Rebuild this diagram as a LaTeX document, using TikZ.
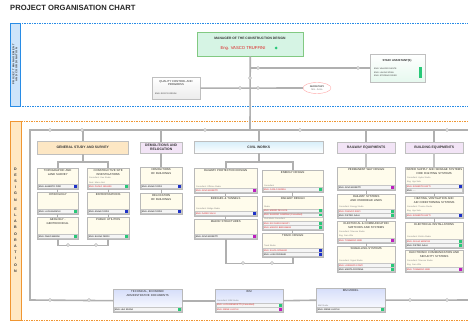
\documentclass[tikz,border=0pt]{standalone}
\usepackage{fontspec}
\setmainfont{Liberation Sans}
\newfontfamily\spacedfont[LetterSpace=20]{Liberation Sans}
\usetikzlibrary{calc,shapes.geometric}
\definecolor{mint}{RGB}{214,244,228}
\definecolor{cream}{RGB}{255,252,236}
\definecolor{peach}{RGB}{253,231,196}
\definecolor{lav}{RGB}{242,228,246}
\definecolor{skyb}{RGB}{214,238,250}
\definecolor{bimb}{RGB}{214,222,250}
\definecolor{bluefr}{RGB}{40,140,230}
\definecolor{orafr}{RGB}{240,150,50}
\definecolor{bluestrip}{RGB}{205,228,250}
\definecolor{orastrip}{RGB}{255,232,195}
\definecolor{dgreen}{RGB}{40,200,120}
\definecolor{dblue}{RGB}{30,50,200}
\definecolor{dmag}{RGB}{190,30,190}
\definecolor{nred}{RGB}{220,30,30}
\tikzset{
  conn/.style={line width=1.6pt, draw=gray!62},
  thinconn/.style={line width=0.8pt, draw=gray!62},
  jn/.style={circle, draw=gray!60, fill=white, inner sep=0pt, minimum size=3pt, line width=0.4pt},
  ubox/.style={draw=gray!55, line width=0.4pt, fill=cream, inner sep=0pt},
  wbox/.style={draw=gray!55, line width=0.4pt, top color=bimb, bottom color=white, inner sep=0pt},
  ttl/.style={font=\fontsize{2.8}{3.3}\selectfont, align=center, inner sep=0pt, text=black!85},
  hdr/.style={anchor=north west, draw=gray!50, line width=0.4pt, font=\bfseries\fontsize{3.4}{4}\selectfont, align=center, inner sep=0pt, text=black!80},
  rowbar/.style={draw=gray!45, fill=gray!8, line width=0.25pt},
  rowtxt/.style={font=\fontsize{2.2}{2.5}\selectfont, inner sep=0pt},
  labtxt/.style={font=\fontsize{2.1}{2.5}\selectfont, inner sep=0pt, text=gray},
  dot/.style={rectangle, inner sep=0pt, minimum size=2.8pt},
  frameb/.style={draw=bluefr, line width=0.8pt, dash pattern=on 1.5pt off 1pt},
  frameo/.style={draw=orafr, line width=0.8pt, dash pattern=on 1.5pt off 1pt}
}
\newcommand\mkbox[7]{%
  \node[#1, anchor=north west, minimum width=#5pt, minimum height=#6pt] (#2) at (#3,#4) {};
  \node[ttl, text width=#5pt, anchor=north] at ([yshift=-1.8pt]#2.north) {#7};}
\newcommand\nrow[5]{%
  \draw[rowbar] ($(#1.south west)+(1,-1-4.2*#2)$) rectangle ($(#1.south east)+(-1,-4.8-4.2*#2)$);
  \node[rowtxt, text=#5, anchor=west] at ($(#1.south west)+(1.8,-2.9-4.2*#2)$) {#3};
  \node[dot, fill=#4] at ($(#1.south east)+(-3,-2.9-4.2*#2)$) {};}
\newcommand\nlab[3]{%
  \node[labtxt, anchor=west] at ($(#1.south west)+(1.8,-2.9-4.2*#2)$) {#3};}
\begin{document}
\begin{tikzpicture}[x=1pt,y=-1pt]
\useasboundingbox (0,0) rectangle (468,323);
\begin{scope}
\clip (0,0) rectangle (468,323);
\fill[white] (0,0) rectangle (468,323);
% title
\node[anchor=north west, inner sep=0pt, font=\bfseries\fontsize{7.6}{8}\selectfont, text=black!85] (title) at (10,4.5) {PROJECT ORGANISATION CHART};
% frames
\draw[frameb] (10,23) rectangle (480,106);
\draw[draw=bluefr, fill=bluestrip, line width=0.6pt] (10,23) rectangle (20,106);
\node[rotate=90, font=\bfseries\spacedfont\fontsize{2.6}{3.2}\selectfont, align=center, inner sep=0pt, text=black!80] (pmlabel) at (15,64.5) {PROJECT MANAGEMENT\\AND COORDINATION};
\draw[frameo] (10,121) rectangle (480,320);
\draw[draw=orafr, fill=orastrip, line width=0.6pt] (10,121) rectangle (21,320);
\node[font=\bfseries\fontsize{3.6}{6.2}\selectfont, align=center, inner sep=0pt, text=black!80] (delabel) at (15.5,220) {D\\E\\S\\I\\G\\N\\[3pt]E\\L\\A\\B\\O\\R\\A\\T\\I\\O\\N};
% management
\node[anchor=north west, draw=green!40!gray!70, fill=mint, line width=0.5pt, minimum width=106pt, minimum height=24pt, inner sep=0pt] (mgr) at (197,32) {};
\node[font=\bfseries\fontsize{3.3}{4}\selectfont, inner sep=0pt, text=black!80] (mgrt) at (250,38.5) {MANAGER OF THE CONSTRUCTION DESIGN};
\node[font=\fontsize{4.2}{5}\selectfont, inner sep=0pt, text=nred] (mgrn) at (243,48) {Eng. VASCO TRUFFINI};
\node[circle, fill=dgreen, inner sep=0pt, minimum size=3pt] (mgrd) at (276,48) {};
\node[anchor=north west, draw=gray!50, top color=white, bottom color=mint!60, line width=0.4pt, minimum width=55pt, minimum height=28pt, inner sep=0pt] (staff) at (370,54) {};
\node[ttl, font=\bfseries\fontsize{2.8}{3.3}\selectfont] (stafft) at (397,61) {STAFF ASSISTANT(S)};
\node[labtxt, text=black!80, anchor=west] (s1) at (374,69) {ENG. VALERIO DANTE};
\node[labtxt, text=black!80, anchor=west] (s2) at (374,72.5) {ENG. LAURA SPINA};
\node[labtxt, text=black!80, anchor=west] (s3) at (374,76) {ENG. STEFANO RISSO};
\fill[dgreen] (419,67) rectangle (422,78);
\node[anchor=north west, draw=gray!50, top color=white, bottom color=gray!15, line width=0.4pt, minimum width=48pt, minimum height=22pt, inner sep=0pt] (qc) at (152,77) {};
\node[ttl] (qct) at (176,83) {QUALITY CONTROL AND\\PROGRESS};
\node[labtxt, text=black!80, anchor=west] (qcn) at (155,94) {ENG. ROCCO ORSINI};
\node[ellipse, draw=red!35, fill=white, line width=0.4pt, minimum width=28pt, minimum height=11pt, inner sep=0pt, font=\fontsize{2.4}{2.8}\selectfont, align=center] (sec) at (317,88) {SECRETARY\\\textcolor{gray}{Mrs. Anna}};
\coordinate (hubs) at (250,68);
\coordinate (hubq) at (250,88);
\coordinate (tl) at (30,130);
\coordinate (tr) at (480,130);
\coordinate (bl) at (30,300);
\coordinate (br) at (480,300);
\coordinate (tm) at (250,130);
\draw[conn] (mgr.south) -- (tm);
\draw[conn] (hubs) -- (hubs -| staff.west);
\draw[conn] (qc.east) -- (sec.west);
% headers
\node[hdr, fill=peach, minimum width=91pt, minimum height=13pt] (gsh) at (37,141) {GENERAL STUDY AND SURVEY};
\node[hdr, fill=lav, minimum width=42pt, minimum height=11pt] (demh) at (140,142) {DEMOLITIONS AND\\RELOCATION};
\node[hdr, top color=skyb, bottom color=white, minimum width=129pt, minimum height=12pt] (civh) at (194,141) {CIVIL WORKS};
\node[hdr, fill=lav, minimum width=58pt, minimum height=11pt] (rwh) at (337,142) {RAILWAY EQUIPMENTS};
\node[hdr, fill=lav, minimum width=58pt, minimum height=11pt] (beh) at (405,142) {BUILDING EQUIPMENTS};
% general study boxes
\mkbox{ubox}{gs1a}{37}{168}{41}{21}{TOPOGRAPHIC AND\\LAND SURVEY}
\nrow{gs1a}{0}{ENG. ALBERTO PIZZI}{dblue}{black}
\mkbox{ubox}{gs1b}{87}{168}{42}{21}{CONSTRUCTIVE SITE\\INVESTIGATIONS}
\nlab{gs1b}{2}{Consultant: Geo Studio}
\nlab{gs1b}{1}{Geol. Marco Neri}
\nrow{gs1b}{0}{ENG. PAOLO GRANDI}{dgreen}{nred}
\mkbox{ubox}{gs2a}{37}{192}{41}{22}{HYDROLOGY}
\nrow{gs2a}{0}{ENG. LUCA BIANCHI}{dgreen}{black}
\mkbox{ubox}{gs2b}{87}{192}{42}{22}{EXPROPRIATIONS}
\nrow{gs2b}{0}{ENG. ANNA COSTA}{dblue}{black}
\mkbox{ubox}{gs3a}{37}{217}{41}{22}{GEOLOGY -\\GEOTECHNICAL}
\nrow{gs3a}{0}{ENG. FABIO MARINI}{dgreen}{black}
\mkbox{ubox}{gs3b}{87}{217}{42}{22}{PUBLIC UTILITIES}
\nrow{gs3b}{0}{ENG. ELENA FERRI}{dgreen}{black}
% demolitions
\mkbox{ubox}{dem1}{140}{167}{42}{22}{DEMOLITIONS\\OF BUILDINGS}
\nrow{dem1}{0}{ENG. ANNA COSTA}{dblue}{black}
\mkbox{ubox}{dem2}{140}{193}{42}{21}{RELOCATION\\OF BUILDINGS}
\nrow{dem2}{0}{ENG. ANNA COSTA}{dblue}{black}
% civil works
\mkbox{ubox}{cl1}{194}{168}{63}{25}{RAILWAY PROTECTION DESIGN}
\nlab{cl1}{1}{Consultant: Officine Studio}
\nrow{cl1}{0}{ENG. GINO MORETTI}{dmag}{nred}
\mkbox{ubox}{cl2}{194}{196}{63}{20}{BRIDGES \& TUNNELS}
\nlab{cl2}{1}{Consultant: Bridge Studio}
\nrow{cl2}{0}{ENG. DARIO SALVI}{dblue}{nred}
\mkbox{ubox}{cl3}{194}{219}{63}{20}{MAJOR STRUCTURES}
\nrow{cl3}{0}{ENG. GINO MORETTI}{dmag}{black}
\mkbox{ubox}{cr1}{262}{170}{61}{22}{ENERGY DESIGN}
\nlab{cr1}{1}{Consultant}
\nrow{cr1}{0}{ENG. CARLO SERRA}{dgreen}{nred}
\mkbox{ubox}{cr2}{262}{196}{61}{34}{RAILWAY DESIGN}
\nlab{cr2}{5}{Studio}
\nrow{cr2}{4}{ENG. MARIO DE LUCA}{dgreen}{nred}
\nrow{cr2}{3}{ENG. SANDRO CAMPANI (Consultant)}{dgreen}{nred}
\nlab{cr2}{2}{Civil Works Consultant}
\nrow{cr2}{1}{ENG. RICCARDO MONTI}{dgreen}{nred}
\nrow{cr2}{0}{ENG. MARCO BERGAMINI}{dgreen}{nred}
\mkbox{ubox}{cr3}{262}{233}{61}{24}{TRACK DESIGN}
\nlab{cr3}{2}{Track Studio}
\nrow{cr3}{1}{ENG. SILVIA ROMANO}{dblue}{nred}
\nrow{cr3}{0}{ENG. LUIGI FERRARI}{dblue}{black}
% railway equipments
\mkbox{ubox}{rw1}{337}{167}{58}{23}{PERMANENT WAY DESIGN}
\nrow{rw1}{0}{ENG. GINO MORETTI}{dmag}{black}
\mkbox{ubox}{rw2}{337}{194}{58}{24}{RAILWAY SYSTEMS AND OVERHEAD LINES}
\nlab{rw2}{2}{Consultant: Energy Studio}
\nrow{rw2}{1}{ENG. FRANCO RIZZI}{dgreen}{nred}
\nrow{rw2}{0}{ENG. PIETRO GALLI}{dgreen}{black}
\mkbox{ubox}{rw3}{337}{221}{58}{22}{ELECTRICAL \& COMMUNICATION\\SWITCHES AND SYSTEMS}
\nlab{rw3}{2}{Consultant: Telecom Studio}
\nlab{rw3}{1}{Eng. Sara Villa}
\nrow{rw3}{0}{ENG. TOMMASO NERI}{dmag}{nred}
\mkbox{ubox}{rw4}{337}{246}{58}{26}{SIGNALLING SYSTEMS}
\nlab{rw4}{2}{Consultant: Signal Studio}
\nrow{rw4}{1}{ENG. LORENZO CONTI}{dgreen}{nred}
\nrow{rw4}{0}{ENG. MARTA FONTANA}{dgreen}{black}
% building equipments
\mkbox{ubox}{be1}{405}{167}{58}{26}{WATER SUPPLY AND SEWAGE SYSTEMS\\FIRE FIGHTING SYSTEMS}
\nlab{be1}{3}{Consultant: Hydro Studio}
\nlab{be1}{2}{Eng. Ugo Sala}
\nrow{be1}{1}{ENG. ROBERTO GATTI}{dblue}{nred}
\nrow{be1}{0}{ENG. ....}{none}{black}
\mkbox{ubox}{be2}{405}{196}{58}{22}{HEATING, VENTILATION AND\\AIR CONDITIONING SYSTEMS}
\nlab{be2}{2}{Consultant: Thermo Studio}
\nlab{be2}{1}{Eng. Ugo Sala}
\nrow{be2}{0}{ENG. ROBERTO GATTI}{dblue}{nred}
\mkbox{ubox}{be3}{405}{222}{58}{26}{ELECTRICAL INSTALLATIONS}
\nlab{be3}{2}{Consultant: Elettra Studio}
\nrow{be3}{1}{ENG. GIULIA MANCINI}{dgreen}{nred}
\nrow{be3}{0}{ENG. PIETRO GALLI}{dgreen}{black}
\mkbox{ubox}{be4}{405}{250}{58}{22}{ELECTRONIC COMMUNICATION AND\\SECURITY SYSTEMS}
\nlab{be4}{2}{Consultant: Telecom Studio}
\nlab{be4}{1}{Eng. Sara Villa}
\nrow{be4}{0}{ENG. TOMMASO NERI}{dmag}{nred}
% bottom boxes
\mkbox{wbox}{tech}{113}{289}{69}{23}{TECHNICAL, ECONOMIC\\ADMINISTRATIVE DOCUMENTS}
\nrow{tech}{0}{ENG. LEA SPADA}{dgreen}{black}
\mkbox{wbox}{bim}{215}{289}{68}{23}{BIM}
\nlab{bim}{2}{Consultant: BIM Studio}
\nrow{bim}{1}{ENG. LUCA BENEDETTI (Consultant)}{dgreen}{nred}
\nrow{bim}{0}{ENG. IRENE LUCCHI}{dmag}{nred}
\mkbox{wbox}{bimm}{316}{288}{69}{24}{BIM MODEL}
\nlab{bimm}{1}{BIM Studio}
\nrow{bimm}{0}{ENG. IRENE LUCCHI}{dgreen}{black}
% bus and connectors
\draw[conn] (tr) -- (tl) -- (bl) -- (tech.west);
\draw[conn] (tech.east) -- (bim.west);
\draw[conn] (bim.east) -- (bimm.west);
\draw[conn] (bimm.east) -- (br);
\draw[conn] (gsh.north |- tl) -- (gsh.north);
\draw[conn] (demh.north |- tl) -- (demh.north);
\draw[conn] (civh.north |- tl) -- (civh.north);
\draw[conn] (rwh.north |- tl) -- (rwh.north);
\draw[conn] (beh.north |- tl) -- (beh.north);
\draw[conn] (gsh.south) -- ++(0,8);
\draw[conn] (gs1a.north) -- ++(0,-6) -| (gs1b.north);
\draw[thinconn] (gs1a.south) -- (gs2a.north);
\draw[thinconn] (gs2a.south) -- (gs3a.north);
\draw[thinconn] (gs1b.south) -- (gs2b.north);
\draw[thinconn] (gs2b.south) -- (gs3b.north);
\draw[conn] (gs3a.south) -- ++(0,6) -| (gs3b.south);
\draw[conn] (demh.south) -- (dem1.north);
\draw[thinconn] (dem1.south) -- (dem2.north);
\draw[conn] (civh.south) -- ++(0,9);
\draw[conn] (cl1.north) -- ++(0,-6) -| (cr1.north);
\draw[thinconn] (cl1.south) -- (cl2.north);
\draw[thinconn] (cl2.south) -- (cl3.north);
\draw[thinconn] (cr1.south) -- (cr2.north);
\draw[thinconn] (cr2.south) -- (cr3.north);
\draw[conn] (cl3.south) -- ++(0,24) -| (cr3.south);
\draw[conn, line width=2.4pt, draw=gray!45] (rwh.south) -- (rw1.north);
\draw[thinconn] (rw1.south) -- (rw2.north);
\draw[thinconn] (rw2.south) -- (rw3.north);
\draw[thinconn] (rw3.south) -- (rw4.north);
\draw[conn, line width=2.4pt, draw=gray!45] (beh.south) -- (be1.north);
\draw[thinconn] (be1.south) -- (be2.north);
\draw[thinconn] (be2.south) -- (be3.north);
\draw[thinconn] (be3.south) -- (be4.north);
% junctions
\foreach \p in {(250,78),(258,68),(358,68),(240,88),(258,88),(50,130),(82,130),(205,130),(300,130),(447,130),(50,300),(89,300),(410,300),(447,300),(68,245),(96,245),(243,263),(272,263)}
  \node[jn] at \p {};
\end{scope}
\end{tikzpicture}
\end{document}
